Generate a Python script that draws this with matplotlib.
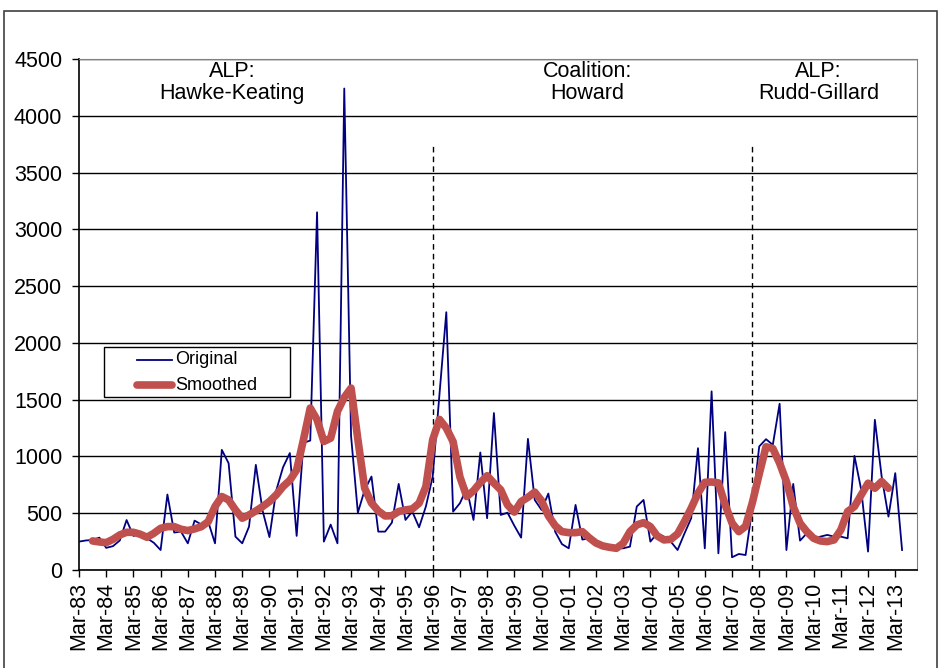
import matplotlib.pyplot as plt
from matplotlib.patches import Rectangle

plt.rcParams['font.family'] = ['Liberation Sans', 'DejaVu Sans']

# quarterly series, Mar-83 .. Jun-13
original = [250, 260, 265, 285, 195, 210, 260, 440, 300, 320,
            280, 240, 176, 665, 330, 338, 235, 435, 400, 425,
            235, 1058, 940, 294, 235, 382, 926, 520, 290, 700,
            905, 1030, 300, 1120, 1140, 3150, 250, 400, 235, 4240,
            1180, 505, 705, 823, 338, 338, 417, 758, 441, 515,
            376, 560, 823, 1550, 2270, 514, 588, 720, 441, 1035,
            456, 1382, 485, 505, 390, 285, 1155, 617, 529, 673,
            338, 228, 191, 573, 268, 279, 228, 206, 176, 191,
            191, 206, 559, 617, 250, 323, 294, 250, 176, 320,
            456, 1073, 191, 1573, 147, 1214, 112, 141, 132, 550,
            1088, 1152, 1102, 1464, 176, 758, 259, 323, 279, 294,
            309, 294, 294, 279, 1005, 705, 162, 1323, 823, 470,
            853, 176]

# smoothed series starts at the third quarter
smooth_start = 2
smoothed = [256, 247, 241, 270, 309, 332, 332, 315, 288, 323,
            367, 382, 382, 359, 347, 362, 382, 426, 559, 647,
            617, 529, 456, 485, 520, 559, 603, 662, 735, 790,
            882, 1147, 1426, 1323, 1132, 1161, 1397, 1520, 1602, 1150,
            720, 590, 520, 476, 478, 515, 529, 538, 588, 735,
            1147, 1326, 1250, 1130, 820, 647, 698, 770, 830, 765,
            706, 573, 510, 603, 640, 686, 610, 478, 390, 338,
            329, 329, 338, 284, 238, 212, 200, 191, 235, 338,
            397, 417, 382, 300, 265, 270, 318, 426, 544, 676,
            772, 775, 767, 574, 414, 338, 385, 595, 845, 1085,
            1070, 941, 779, 559, 412, 338, 279, 256, 250, 265,
            353, 515, 559, 662, 764, 720, 779, 720]

years = ['83', '84', '85', '86', '87', '88', '89', '90', '91', '92',
         '93', '94', '95', '96', '97', '98', '99', '00', '01', '02',
         '03', '04', '05', '06', '07', '08', '09', '10', '11', '12', '13']
tick_labels = ['Mar-' + y for y in years]

# changes of government (quarter index) and period labels
change_points = [52, 99]
periods = ['ALP:\nHawke-Keating', 'Coalition:\nHoward', 'ALP:\nRudd-Gillard']
period_x = [22.5, 74.7, 108.7]

NAVY = '#000080'
RED = '#C0504D'

fig = plt.figure(figsize=(9.39, 6.68), dpi=100)
ax = fig.add_axes([0.0841, 0.1467, 0.8925, 0.765])

x_orig = list(range(len(original)))
x_smooth = list(range(smooth_start, smooth_start + len(smoothed)))

ax.plot(x_orig, original, color=NAVY, lw=1.3, zorder=3)
ax.plot(x_smooth, smoothed, color=RED, lw=5.5, solid_capstyle='round',
        solid_joinstyle='round', zorder=4)

for cp in change_points:
    ax.plot([cp, cp], [0, 3740], color='black', lw=1, ls=(0, (4, 3)), zorder=2)

for txt, px in zip(periods, period_x):
    ax.text(px, 4290, txt, ha='center', va='center', fontsize=15.5,
            linespacing=1.05)

ax.set_xlim(0, 123.2)
ax.set_ylim(0, 4500)
ax.set_yticks(range(0, 4501, 500))
ax.set_xticks(range(0, 121, 4))
ax.set_xticklabels(tick_labels, rotation=90)
ax.tick_params(axis='both', labelsize=15.5, direction='out', length=5,
               width=1, color='black')
ax.tick_params(axis='y', pad=7)

ax.grid(axis='y', color='black', lw=1)
ax.set_axisbelow(True)
for side in ['top', 'right']:
    ax.spines[side].set_color('#808080')
for side in ['left', 'bottom']:
    ax.spines[side].set_color('black')
    ax.spines[side].set_linewidth(1.2)

# legend box drawn by hand, Excel style
tr = ax.transAxes
ax.add_patch(Rectangle((0.0298, 0.3386), 0.222, 0.0978, transform=tr,
                       facecolor='white', edgecolor='black', lw=1, zorder=6))
ax.plot([0.069, 0.111], [0.411, 0.411], transform=tr, color=NAVY, lw=1.3,
        zorder=7)
ax.plot([0.069, 0.111], [0.362, 0.362], transform=tr, color=RED, lw=5.5,
        solid_capstyle='round', zorder=7)
ax.text(0.1146, 0.411, 'Original', transform=tr, fontsize=13, va='center',
        zorder=8)
ax.text(0.1146, 0.362, 'Smoothed', transform=tr, fontsize=13, va='center',
        zorder=8)

# outer chart border
fig.patches.append(Rectangle((0.0043, -0.01), 0.9936, 0.9935,
                             transform=fig.transFigure, fill=False,
                             edgecolor='#404040', lw=1.2))

fig.savefig('out.png', dpi=100)
